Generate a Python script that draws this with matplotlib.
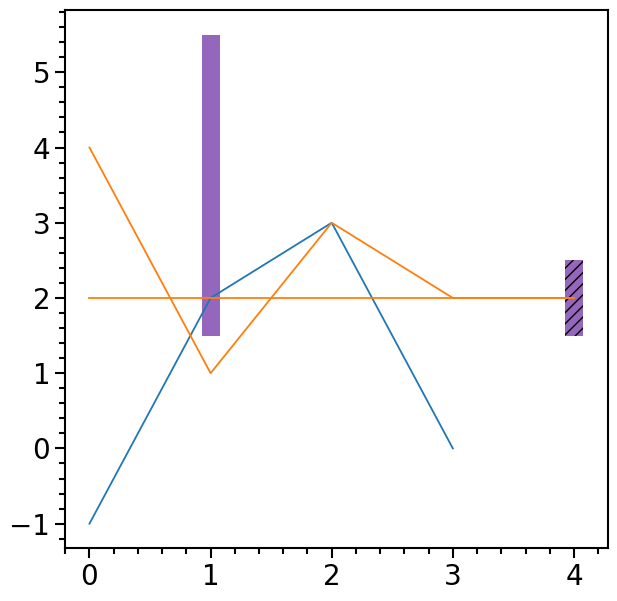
import matplotlib
matplotlib.use("Agg")
import matplotlib.pyplot as plt
from matplotlib.ticker import MultipleLocator

# line data
x = [0, 1, 2, 3]
blue_y = [-1, 2, 3, 0]
x_orange = [0, 1, 2, 3, 4]
orange_y = [4, 1, 3, 2, 2]
flat_y = [2, 2, 2, 2, 2]

# bar data
bar_x = [1, 4]
bar_bottom = [1.5, 1.5]
bar_height = [4, 1]
bar_hatch = [None, "///"]

fig = plt.figure(figsize=(6.17, 6.01), dpi=100)
ax = fig.add_axes([0.105, 0.088, 0.88, 0.895])

ax.plot(x, blue_y, color="C0", lw=1.3)
ax.plot(x_orange, orange_y, color="C1", lw=1.3)
ax.plot(x_orange, flat_y, color="C1", lw=1.3)

for bx, bb, bh, hatch in zip(bar_x, bar_bottom, bar_height, bar_hatch):
    ax.bar(bx, bh, width=0.15, bottom=bb, color="C4", edgecolor="black",
           linewidth=0, hatch=hatch, zorder=1)

ax.xaxis.set_major_locator(MultipleLocator(1))
ax.xaxis.set_minor_locator(MultipleLocator(0.2))
ax.yaxis.set_major_locator(MultipleLocator(1))
ax.yaxis.set_minor_locator(MultipleLocator(0.2))

ax.tick_params(which="major", length=7, width=1.5, labelsize=20)
ax.tick_params(which="minor", length=4, width=1.5)
for s in ax.spines.values():
    s.set_linewidth(1.5)

fig.savefig("out.png", dpi=100)
